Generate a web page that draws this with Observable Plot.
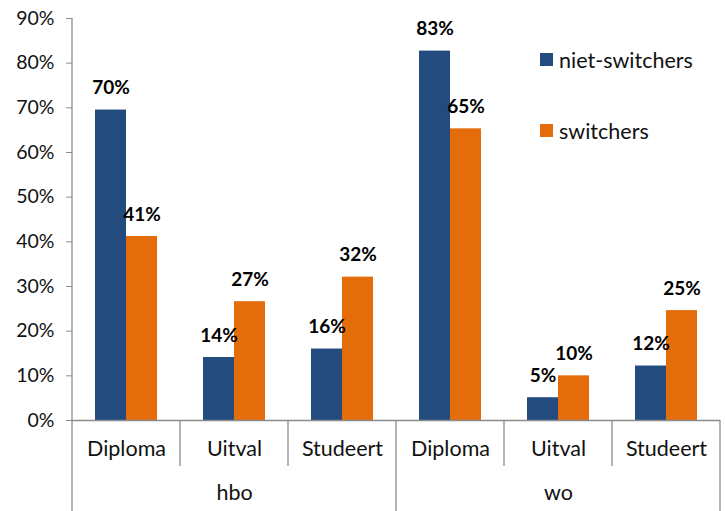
<!DOCTYPE html>
<html>
<head>
<meta charset="utf-8">
<script src="https://cdn.jsdelivr.net/npm/d3@7"></script>
<script src="https://cdn.jsdelivr.net/npm/@observablehq/plot@0.6"></script>
<style>
  html, body { margin: 0; padding: 0; background: #fff; }
</style>
</head>
<body>
<div id="chart"></div>
<script>
const levels = ["hbo", "wo"];
const outcomes = ["Diploma", "Uitval", "Studeert"];
const series = ["niet-switchers", "switchers"];
const nietSwitchers = [69.5, 14.1, 16.0, 82.7, 5.1, 12.2];
const switchers = [41.2, 26.6, 32.1, 65.3, 10.0, 24.6];
const yTicks = [0, 10, 20, 30, 40, 50, 60, 70, 80, 90];
const colors = ["#234B7D", "#E46C0A"];

const groups = levels.flatMap(l => outcomes.map(o => l + " " + o));
const data = groups.flatMap((g, i) => [
  {group: g, series: series[0], value: nietSwitchers[i]},
  {group: g, series: series[1], value: switchers[i]}
]);

const gray = "#8c8c8c";
const font = "Lato, 'Open Sans', sans-serif";

const chart = Plot.plot({
  width: 725,
  height: 511,
  marginLeft: 71,
  marginRight: 4,
  marginTop: 18,
  marginBottom: 91,
  style: {fontFamily: font, fontSize: "19px", color: "#111", background: "#fff", overflow: "visible"},
  fx: {domain: groups, padding: 0, axis: null},
  x: {domain: series, axis: null, paddingInner: 0, paddingOuter: 0.74},
  y: {domain: [0, 90], axis: null},
  color: {domain: series, range: colors},
  marks: [
    Plot.axisY({ticks: yTicks, tickFormat: d => d + "%", tickSize: 6, tickPadding: 12, stroke: gray, fill: "#111", label: null, fontSize: 19.5}),
    Plot.barY(data, {fx: "group", x: "series", y: "value", fill: "series"}),
    Plot.ruleY([0], {stroke: gray, strokeWidth: 1.3}),
    Plot.text(data, {fx: "group", x: "series", y: "value", text: d => Math.round(d.value) + "%", dy: -22, fontWeight: "bold", fontSize: 19, fill: "#000"}),
    Plot.text(groups, {fx: d => d, text: (d, i) => outcomes[i % 3], frameAnchor: "bottom", dy: 35, fontSize: 21.5, fill: "#111"}),
    Plot.text(levels, {fx: l => l + " Uitval", text: l => l, frameAnchor: "bottom", dy: 79, fontSize: 21.5, fill: "#111"})
  ]
});

document.getElementById("chart").appendChild(chart);

// separators and y-axis line drawn from the facet scale
const svg = d3.select(chart);
const fx = chart.scale("fx");
const yS = chart.scale("y");
const y0 = yS.apply(0), yTop = yS.apply(90);
const bounds = groups.map(g => fx.apply(g)).concat([fx.apply(groups[groups.length - 1]) + fx.bandwidth]);
bounds.forEach((bx, i) => {
  const major = i % 3 === 0;
  svg.append("line")
    .attr("x1", bx).attr("x2", bx)
    .attr("y1", i === 0 ? yTop : y0)
    .attr("y2", major ? 511 : y0 + 46)
    .attr("stroke", gray).attr("stroke-width", 1.3);
});

// legend
const col = chart.scale("color");
const lg = svg.append("g").attr("font-family", font).attr("font-size", 21.5).attr("text-anchor", "start");
series.forEach((s, i) => {
  const cy = 60 + i * 71;
  lg.append("rect").attr("x", 540).attr("y", cy - 7).attr("width", 13).attr("height", 13).attr("fill", col.apply(s));
  lg.append("text").attr("x", 559).attr("y", cy).attr("dy", "0.35em").attr("fill", "#111").text(s);
});
</script>
</body>
</html>
